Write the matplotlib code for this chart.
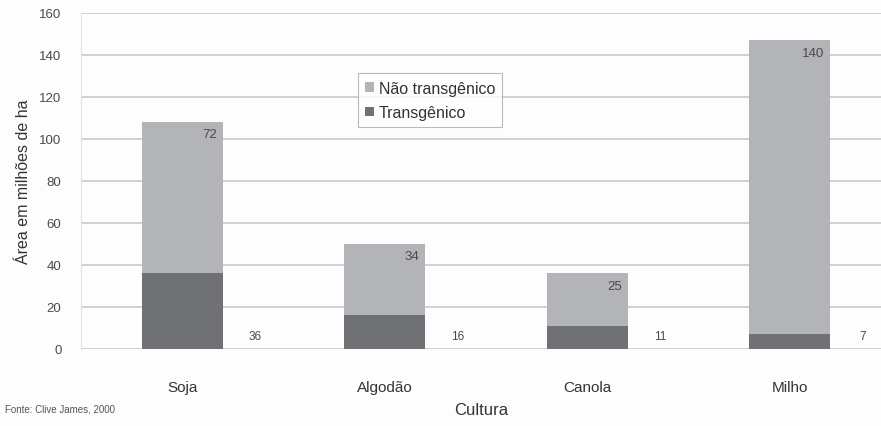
import matplotlib

matplotlib.use("Agg")
import matplotlib.pyplot as plt
import numpy as np

plt.rcParams["font.family"] = ["Liberation Sans", "DejaVu Sans"]

culturas = ["Soja", "Algodão", "Canola", "Milho"]
transgenico = [36, 16, 11, 7]
nao_transgenico = [72, 34, 25, 140]
y_ticks = [0, 20, 40, 60, 80, 100, 120, 140, 160]

COR_CLARA = "#b3b4b7"
COR_ESCURA = "#6f7174"
COR_TEXTO = "#4a4a4a"

fig = plt.figure(figsize=(8.81, 4.27), dpi=100)
fig.patch.set_facecolor("#fdfdfd")
ax = fig.add_axes([81 / 881, 1 - 350 / 427, 800 / 881, 336 / 427])
ax.set_facecolor("#fdfdfd")

x = np.arange(len(culturas))
w = 0.4
ax.bar(x, transgenico, w, color=COR_ESCURA, label="Transgênico", zorder=3)
ax.bar(x, nao_transgenico, w, bottom=transgenico, color=COR_CLARA,
       label="Não transgênico", zorder=3)

for i in range(len(culturas)):
    topo = transgenico[i] + nao_transgenico[i]
    ax.text(x[i] + w / 2 - 0.03, topo - 3, str(nao_transgenico[i]),
            ha="right", va="top", fontsize=9.5, color=COR_TEXTO, zorder=4)
    ax.text(x[i] + w / 2 + 0.16, 6, str(transgenico[i]),
            ha="center", va="center", fontsize=8.5, color=COR_TEXTO, zorder=4)

ax.set_xlim(-0.5, 3.45)
ax.set_ylim(0, 160)
ax.set_yticks(y_ticks)
ax.tick_params(axis="y", length=0, labelsize=9.5, labelcolor=COR_TEXTO, pad=14)
ax.tick_params(axis="x", length=0, labelsize=11, labelcolor="#333333", pad=22)
ax.set_xticks(x)
ax.set_xticklabels(culturas)
ax.grid(axis="y", color="#c9c9c9", linewidth=1.2, zorder=0)
for s in ax.spines.values():
    s.set_visible(False)
ax.spines["left"].set_visible(True)
ax.spines["left"].set_color("#e2e2e2")

ax.set_ylabel("Área em milhões de ha", fontsize=11.5, color="#333333", labelpad=6)
ax.set_xlabel("Cultura", fontsize=12, color="#333333", labelpad=6)

handles, labels = ax.get_legend_handles_labels()
leg = ax.legend(handles[::-1], labels[::-1], loc="center",
                bbox_to_anchor=(0.4365, 0.74), fontsize=11.5, frameon=True,
                fancybox=False, edgecolor="#aaaaaa", handlelength=0.55,
                handleheight=0.55, handletextpad=0.3, borderpad=0.45,
                labelspacing=0.6, labelcolor="#333333", borderaxespad=0)
leg.get_frame().set_linewidth(0.8)

fig.text(5 / 881, 1 - 410 / 427, "Fonte: Clive James, 2000", fontsize=7,
         color="#555555", va="center", ha="left")

fig.savefig("out.png", dpi=100, facecolor=fig.get_facecolor())
